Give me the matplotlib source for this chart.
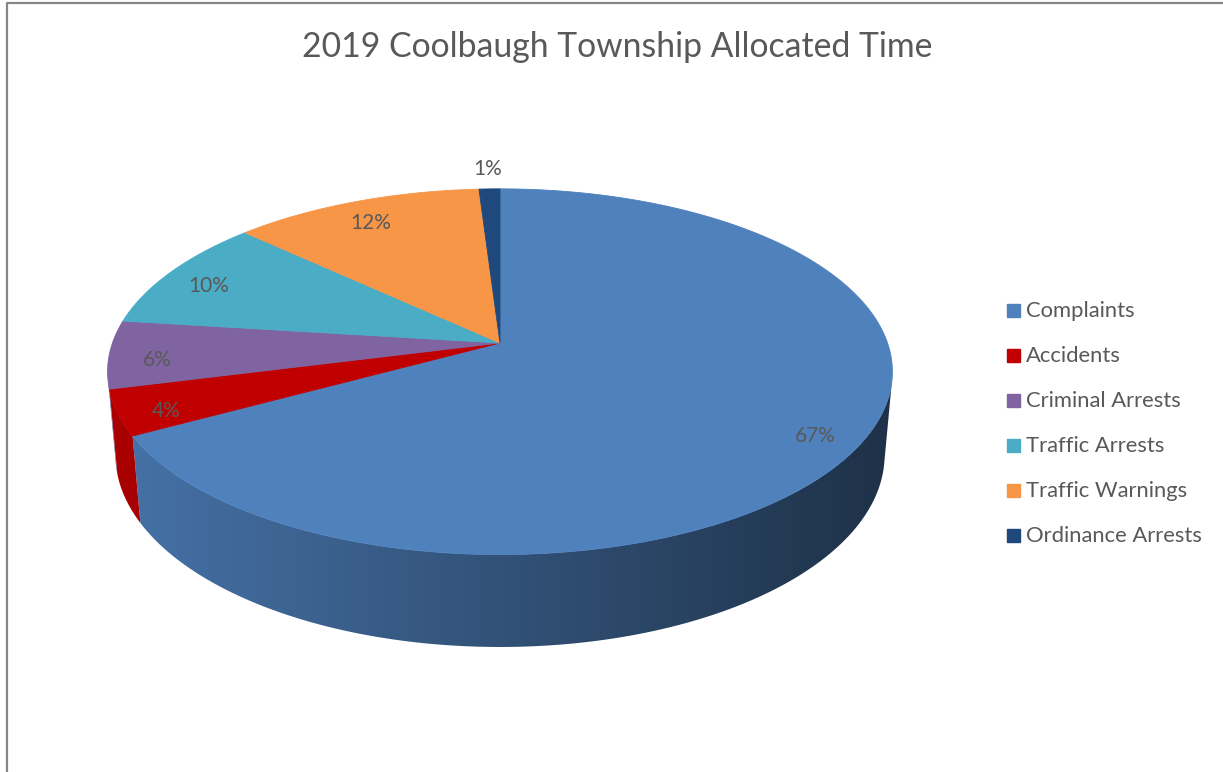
import numpy as np
import matplotlib.pyplot as plt
from matplotlib.patches import Rectangle, Polygon
from matplotlib.colors import to_rgb

plt.rcParams['font.family'] = ['Lato', 'DejaVu Sans']

title = '2019 Coolbaugh Township Allocated Time'
categories = ['Complaints', 'Accidents', 'Criminal Arrests', 'Traffic Arrests',
              'Traffic Warnings', 'Ordinance Arrests']
values = [67, 4, 6, 10, 12, 1]
colors = ['#4F81BD', '#C00000', '#8064A2', '#4BACC6', '#F79646', '#1F497D']

# 3d view settings (pie radius = 1)
alpha = np.radians(27.4)
D = 5.656
f = 2192
cx, cy = 500, 343
h = 0.244
txt = '#595959'


def proj(theta, r=1.0, yw=0.0):
    x = r * np.sin(theta)
    z = r * np.cos(theta)
    yc = yw * np.cos(alpha) + z * np.sin(alpha)
    zc = -yw * np.sin(alpha) + z * np.cos(alpha) + D
    return cx + f * x / zc, cy - f * yc / zc


fig = plt.figure(figsize=(12.23, 7.72), dpi=100)
ax = fig.add_axes([0, 0, 1, 1])
ax.set_xlim(0, 1223)
ax.set_ylim(772, 0)
ax.axis('off')

# frame (only left and top visible)
ax.plot([7, 7, 1223], [772, 3, 3], color='#878787', lw=1.6, solid_capstyle='butt')

fr = np.array(values, dtype=float) / sum(values)
bounds = np.concatenate([[0], np.cumsum(fr)]) * 2 * np.pi

# side wall, shaded left (light) to right (dark)
c = 1 / (D * np.cos(alpha))
vis_lo = np.arccos(-c)
vis_hi = 2 * np.pi - vis_lo
gx = np.linspace(90, 910, 400)
shade = np.clip(0.89 - 0.51 * (gx - 107) / (892 - 107), 0.36, 0.9)
for i in range(len(values)):
    t0 = max(bounds[i], vis_lo)
    t1 = min(bounds[i + 1], vis_hi)
    if t1 <= t0:
        continue
    ts = np.linspace(t0, t1, 300)
    tx, ty = proj(ts)
    bx, by = proj(ts[::-1], yw=-h)
    pts = np.column_stack([np.concatenate([tx, bx]), np.concatenate([ty, by])])
    poly = Polygon(pts, closed=True, fc='none', ec='none')
    ax.add_patch(poly)
    base = np.array(to_rgb(colors[i]))
    img = (shade[:, None] * base[None, :])[None, :, :]
    im = ax.imshow(img, extent=(gx[0], gx[-1], 700, 150), aspect='auto',
                   interpolation='bilinear', zorder=1)
    im.set_clip_path(poly)

# top face
for i in range(len(values)):
    ts = np.linspace(bounds[i], bounds[i + 1], 200)
    xs, ys = proj(ts)
    xs = np.concatenate([[cx], xs])
    ys = np.concatenate([[cy], ys])
    ax.fill(xs, ys, color=colors[i], lw=0.6, ec=colors[i], zorder=2)

# labels
for i, v in enumerate(values):
    mid = (bounds[i] + bounds[i + 1]) / 2
    if fr[i] < 0.02:
        lx, ly = proj(mid, r=1.15)
    else:
        lx, ly = proj(mid, r=0.88, yw=-0.02)
    ax.text(lx, ly, f'{v}%', ha='center', va='center', fontsize=15, color=txt, zorder=3)

ax.text(617, 47, title, ha='center', va='center', fontsize=24.3, color=txt)

# legend
for i, cat in enumerate(categories):
    yy = 311 + 45 * i
    ax.add_patch(Rectangle((1007, yy - 7), 13, 13, color=colors[i]))
    ax.text(1026, yy, cat, ha='left', va='center', fontsize=15.8, color=txt)

ax.set_xlim(0, 1223)
ax.set_ylim(772, 0)
fig.savefig('out.png', dpi=100)
